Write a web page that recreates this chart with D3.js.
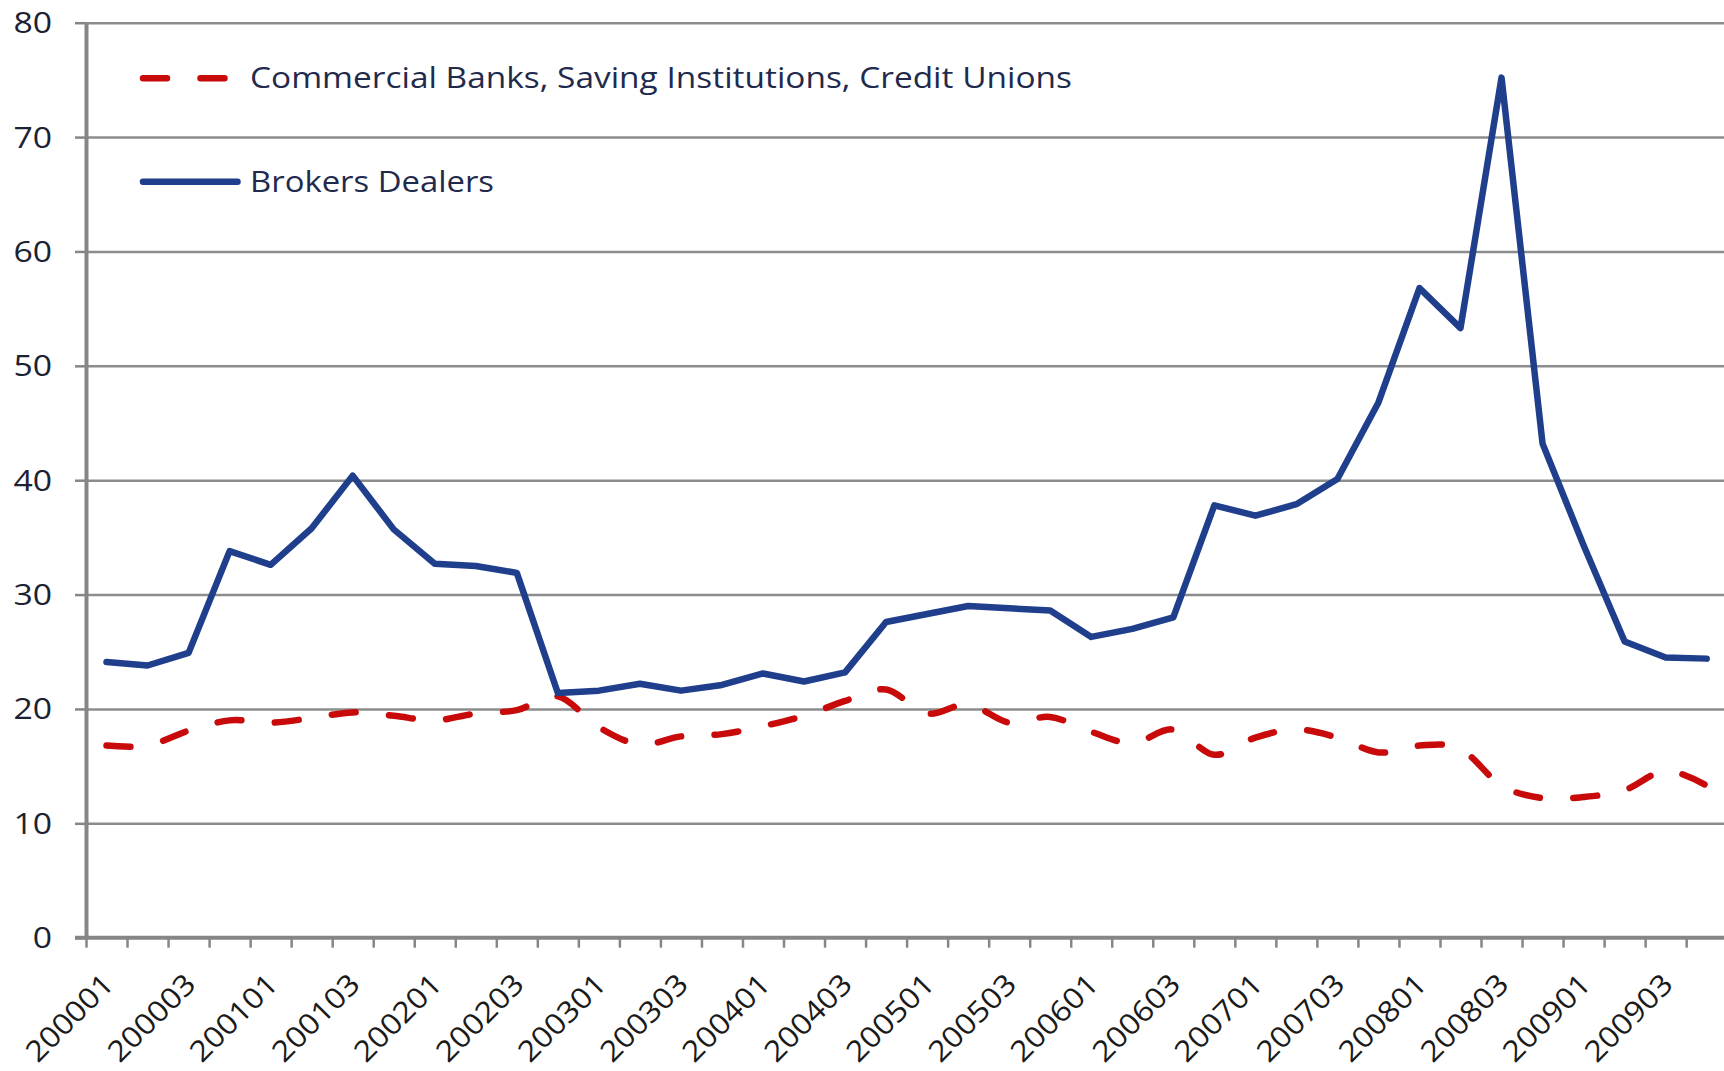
<!DOCTYPE html>
<html>
<head>
<meta charset="utf-8">
<script src="https://cdn.jsdelivr.net/npm/d3@7"></script>
<style>
  html, body { margin: 0; padding: 0; background: #fff; }
  svg { display: block; }
</style>
</head>
<body>
<svg id="chart" width="1724" height="1071"></svg>
<script>
// Quarters, written as YYYY0Q
const quarters = [
  "200001","200002","200003","200004",
  "200101","200102","200103","200104",
  "200201","200202","200203","200204",
  "200301","200302","200303","200304",
  "200401","200402","200403","200404",
  "200501","200502","200503","200504",
  "200601","200602","200603","200604",
  "200701","200702","200703","200704",
  "200801","200802","200803","200804",
  "200901","200902","200903","200904"
];

// Brokers Dealers
const brokersDealers = [
  24.1, 23.8, 24.9, 33.8, 32.6, 35.8, 40.4, 35.7, 32.7, 32.5,
  31.9, 21.4, 21.6, 22.2, 21.6, 22.1, 23.1, 22.4, 23.2, 27.6,
  28.3, 29.0, 28.8, 28.6, 26.3, 27.0, 28.0, 37.8, 36.9, 37.9,
  40.1, 46.8, 56.8, 53.3, 75.2, 43.2, 34.3, 25.9, 24.5, 24.4
];

// Commercial Banks, Saving Institutions, Credit Unions
const banksThriftsCUs = [
  16.8, 16.8, 18.1, 19.0, 18.8, 19.2, 19.7, 19.4, 19.0, 19.6,
  19.9, 21.1, 18.4, 16.9, 17.6, 17.8, 18.5, 19.4, 20.7, 21.7,
  19.6, 20.4, 18.8, 19.3, 18.0, 17.0, 18.2, 16.0, 17.5, 18.2,
  17.5, 16.2, 16.8, 16.5, 13.3, 12.2, 12.3, 12.9, 14.6, 13.3
];

const yTicks = [0, 10, 20, 30, 40, 50, 60, 70, 80];
const xLabelEvery = 2;

const seriesNames = [
  "Commercial Banks, Saving Institutions, Credit Unions",
  "Brokers Dealers"
];

const BLUE = "#1f3e8c";
const RED = "#c80a0a";
const GRID = "#8c8c8c";
const AXIS = "#868686";
const FONT = "'Open Sans', 'Noto Sans', sans-serif";

const svg = d3.select("#chart");

const left = 86, bandW = 41.03;
const right = left + quarters.length * bandW;

const x = d3.scaleBand().domain(quarters).range([left, right]).padding(0);
const xEdge = d3.scaleLinear().domain([0, quarters.length]).range([left, right]);
const y = d3.scaleLinear().domain([0, 80]).range([937.7, 22.7]);
const cx = q => x(q) + x.bandwidth() / 2;

// Horizontal gridlines
const grid = svg.append("g")
  .attr("transform", `translate(${left},0)`)
  .call(d3.axisLeft(y).tickValues(yTicks.filter(v => v > 0))
    .tickSize(-(1724 - left)).tickFormat(""));
grid.select(".domain").remove();
grid.selectAll("line").attr("stroke", GRID).attr("stroke-width", 2.5);

// Y axis
const yAxis = svg.append("g")
  .attr("transform", `translate(${left},0)`)
  .call(d3.axisLeft(y).tickValues(yTicks).tickSize(11).tickSizeOuter(0).tickPadding(0));
yAxis.select(".domain").attr("stroke", AXIS).attr("stroke-width", 4);
yAxis.selectAll(".tick line").attr("stroke", AXIS).attr("stroke-width", 2.5);
yAxis.selectAll(".tick text").remove();

// Y tick labels
svg.append("g").selectAll("text").data(yTicks).join("text")
  .attr("x", 52)
  .attr("y", d => y(d))
  .attr("dy", "0.36em")
  .attr("text-anchor", "end")
  .attr("font-family", FONT)
  .attr("font-size", 29)
  .attr("fill", "#1d2233")
  .attr("textLength", d => String(d).length * 19.3)
  .attr("lengthAdjust", "spacingAndGlyphs")
  .text(d => d);

// X axis with a tick at each category boundary
const xAxis = svg.append("g")
  .attr("transform", `translate(0,${y(0)})`)
  .call(d3.axisBottom(xEdge).tickValues(d3.range(quarters.length + 1))
    .tickSize(10).tickSizeOuter(0).tickFormat(""));
xAxis.select(".domain").attr("stroke", AXIS).attr("stroke-width", 4)
  .attr("d", `M${left - 11},0H${right}`);
xAxis.selectAll(".tick line").attr("stroke", AXIS).attr("stroke-width", 2.5);

// Rotated category labels
svg.append("g").selectAll("text")
  .data(quarters.filter((q, i) => i % xLabelEvery === 0))
  .join("text")
  .attr("transform", q => `translate(${cx(q) + 9},986) rotate(-45)`)
  .attr("text-anchor", "end")
  .attr("font-family", FONT)
  .attr("font-size", 29)
  .attr("fill", "#1a1a1a")
  .attr("textLength", 110)
  .attr("lengthAdjust", "spacingAndGlyphs")
  .text(q => q);

// Series lines
const lineStraight = d3.line()
  .x((d, i) => cx(quarters[i]))
  .y(d => y(d));
const lineSmooth = d3.line()
  .x((d, i) => cx(quarters[i]))
  .y(d => y(d))
  .curve(d3.curveCardinal.tension(0));

svg.append("path")
  .datum(banksThriftsCUs)
  .attr("d", lineSmooth)
  .attr("fill", "none")
  .attr("stroke", RED)
  .attr("stroke-width", 6.5)
  .attr("stroke-linecap", "round")
  .attr("stroke-dasharray", "24,33.5");

svg.append("path")
  .datum(brokersDealers)
  .attr("d", lineStraight)
  .attr("fill", "none")
  .attr("stroke", BLUE)
  .attr("stroke-width", 6.5)
  .attr("stroke-linejoin", "round")
  .attr("stroke-linecap", "round");

// Legend
const legend = svg.append("g");
legend.append("line")
  .attr("x1", 143).attr("x2", 227).attr("y1", 78.3).attr("y2", 78.3)
  .attr("stroke", RED).attr("stroke-width", 6.5)
  .attr("stroke-linecap", "round").attr("stroke-dasharray", "24,33.5");
legend.append("line")
  .attr("x1", 143).attr("x2", 237.5).attr("y1", 181.7).attr("y2", 181.7)
  .attr("stroke", BLUE).attr("stroke-width", 6.5)
  .attr("stroke-linecap", "round");

const legendRows = [
  { name: seriesNames[0], baseline: 88, width: 822 },
  { name: seriesNames[1], baseline: 192, width: 244 }
];
legend.selectAll("text").data(legendRows).join("text")
  .attr("x", 250)
  .attr("y", d => d.baseline)
  .attr("font-family", FONT)
  .attr("font-size", 29)
  .attr("fill", "#1f2a4d")
  .attr("textLength", d => d.width)
  .attr("lengthAdjust", "spacingAndGlyphs")
  .text(d => d.name);
</script>
</body>
</html>
